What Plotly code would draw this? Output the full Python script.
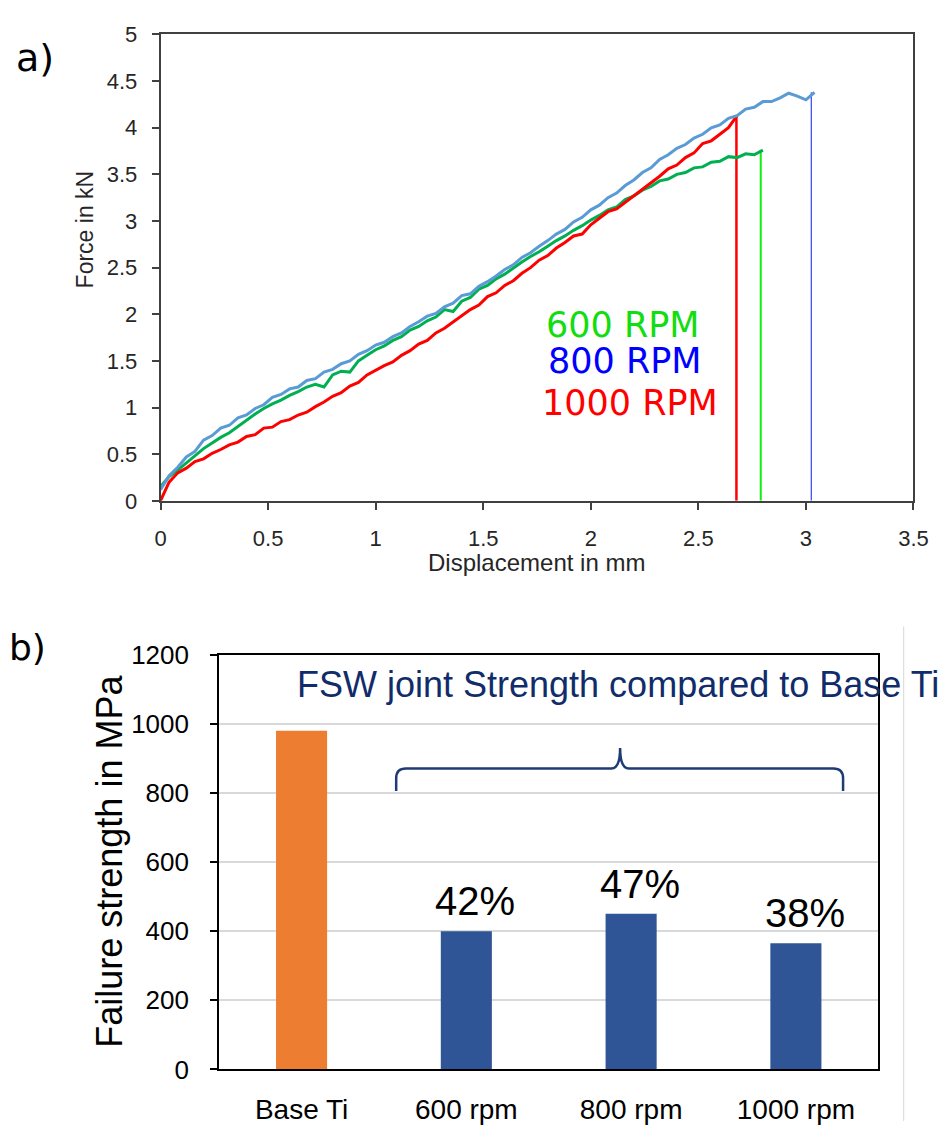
import plotly.graph_objects as go

# ---------------- data ----------------
displacement = [0.00, 0.04, 0.08, 0.12, 0.16, 0.20, 0.24, 0.28, 0.32, 0.36,
                0.40, 0.44, 0.48, 0.52, 0.56, 0.60, 0.64, 0.68, 0.72, 0.76,
                0.80, 0.84, 0.88, 0.92, 0.96, 1.00, 1.04, 1.08, 1.12, 1.16,
                1.20, 1.24, 1.28, 1.32, 1.36, 1.40, 1.44, 1.48, 1.52, 1.56,
                1.60, 1.64, 1.68, 1.72, 1.76, 1.80, 1.84, 1.88, 1.92, 1.96,
                2.00, 2.04, 2.08, 2.12, 2.16, 2.20, 2.24, 2.28, 2.32, 2.36,
                2.40, 2.44, 2.48, 2.52, 2.56, 2.60, 2.64, 2.68, 2.72, 2.76,
                2.80, 2.84, 2.88, 2.92, 2.96, 3.00, 3.04]

force_600 = [0.15, 0.26, 0.33, 0.41, 0.49, 0.56, 0.62, 0.68, 0.73, 0.80,
             0.86, 0.93, 0.99, 1.04, 1.08, 1.13, 1.17, 1.22, 1.25, 1.22,
             1.35, 1.39, 1.38, 1.50, 1.56, 1.62, 1.66, 1.72, 1.76, 1.83,
             1.87, 1.93, 1.97, 2.05, 2.03, 2.14, 2.18, 2.27, 2.31, 2.38,
             2.43, 2.50, 2.56, 2.62, 2.67, 2.73, 2.79, 2.84, 2.90, 2.95,
             3.01, 3.06, 3.12, 3.15, 3.23, 3.27, 3.33, 3.37, 3.43, 3.45,
             3.50, 3.52, 3.57, 3.58, 3.63, 3.64, 3.69, 3.68, 3.72, 3.71,
             3.76]

force_800 = [0.12, 0.27, 0.36, 0.47, 0.53, 0.65, 0.70, 0.78, 0.81, 0.89,
             0.92, 0.99, 1.03, 1.11, 1.14, 1.20, 1.22, 1.29, 1.31, 1.38,
             1.41, 1.47, 1.50, 1.57, 1.61, 1.67, 1.70, 1.76, 1.80, 1.87,
             1.92, 1.98, 2.01, 2.08, 2.12, 2.20, 2.22, 2.30, 2.35, 2.41,
             2.48, 2.53, 2.61, 2.66, 2.73, 2.79, 2.86, 2.91, 2.99, 3.04,
             3.12, 3.17, 3.25, 3.30, 3.38, 3.44, 3.52, 3.57, 3.66, 3.71,
             3.78, 3.82, 3.89, 3.93, 4.00, 4.03, 4.10, 4.13, 4.20, 4.22,
             4.28, 4.28, 4.32, 4.37, 4.34, 4.30, 4.38]

force_1000 = [0.00, 0.20, 0.30, 0.35, 0.42, 0.45, 0.51, 0.55, 0.60, 0.63,
              0.69, 0.71, 0.78, 0.79, 0.85, 0.87, 0.92, 0.95, 1.01, 1.06,
              1.12, 1.16, 1.23, 1.27, 1.35, 1.40, 1.45, 1.49, 1.56, 1.61,
              1.68, 1.72, 1.80, 1.85, 1.92, 1.98, 2.05, 2.10, 2.19, 2.23,
              2.31, 2.36, 2.44, 2.50, 2.58, 2.63, 2.71, 2.77, 2.84, 2.86,
              2.96, 3.03, 3.10, 3.13, 3.20, 3.26, 3.33, 3.40, 3.48, 3.56,
              3.60, 3.68, 3.73, 3.83, 3.86, 3.93, 4.00, 4.13]

rpm_labels = ["600 RPM", "800 RPM", "1000 RPM"]
break_disp = [2.79, 3.025, 2.677]          # displacement at fracture

categories = ["Base Ti", "600 rpm", "800 rpm", "1000 rpm"]
strength = [980, 400, 450, 365]
pct_labels = ["42%", "47%", "38%"]

# ---------------- helpers ----------------
W, H = 950, 1136
def px(x):
    return x / W
def py(y):
    return 1 - y / H

ARIAL = "Liberation Sans, Arial, sans-serif"
VERD = "DejaVu Sans, Verdana, sans-serif"

curve_colors = ["#00b050", "#5b9bd5", "#ff0000"]
drop_colors = ["#11ee11", "#3344ff", "#ff0000"]
drop_widths = [2, 1.2, 2.5]
label_colors = ["#11dd11", "#0000ff", "#ff0000"]
curves = [force_600, force_800, force_1000]

fig = go.Figure()

for i, f in enumerate(curves):
    fig.add_trace(go.Scatter(x=[break_disp[i], break_disp[i]], y=[0, f[-1]],
                             mode="lines", line=dict(color=drop_colors[i], width=drop_widths[i]),
                             xaxis="x", yaxis="y", hoverinfo="skip"))
for i in [0, 2, 1]:
    f = curves[i]
    fig.add_trace(go.Scatter(x=displacement[:len(f)], y=f, mode="lines",
                             line=dict(color=curve_colors[i], width=3),
                             name=rpm_labels[i], xaxis="x", yaxis="y"))

bar_colors = ["#ed7d31", "#2f5597", "#2f5597", "#2f5597"]
fig.add_trace(go.Bar(x=categories, y=strength, marker=dict(color=bar_colors, line=dict(width=0)),
                     width=0.31, xaxis="x2", yaxis="y2"))

axis_common = dict(showline=True, mirror=True, zeroline=False, ticks="outside")

fig.update_layout(
    width=W, height=H, autosize=False, margin=dict(l=0, r=0, t=0, b=0, pad=0),
    paper_bgcolor="white", plot_bgcolor="white", showlegend=False,
    xaxis=dict(domain=[px(158), px(928)], range=[0, 3.5], dtick=0.5, anchor="y",
               linecolor="#404040", linewidth=1.5, tickcolor="#404040", ticklen=7, tickwidth=1.5,
               showgrid=False, tickfont=dict(family=ARIAL, size=22, color="#262626"),
               ticklabelstandoff=10, **axis_common),
    yaxis=dict(domain=[py(499), py(20)], range=[0, 5], dtick=0.5, anchor="x",
               linecolor="#404040", linewidth=1.5, tickcolor="#404040", ticklen=7, tickwidth=1.5,
               showgrid=False, tickfont=dict(family=ARIAL, size=22, color="#262626"),
               ticklabelstandoff=10, **axis_common),
    xaxis2=dict(domain=[px(218), px(892)], type="category", range=[-0.5, 3.5], anchor="y2",
                showline=True, mirror=True, linecolor="black", linewidth=2, ticks="",
                showgrid=False, tickfont=dict(family=ARIAL, size=28, color="black"),
                ticklabelstandoff=14),
    yaxis2=dict(domain=[py(1083), py(657)], range=[0, 1200], dtick=200, anchor="x2",
                linecolor="black", linewidth=2, tickcolor="black", ticklen=7, tickwidth=2,
                showgrid=True, gridcolor="#d9d9d9", gridwidth=1.5,
                tickfont=dict(family=ARIAL, size=26, color="black"),
                ticklabelstandoff=16, **axis_common),
)

def note(text, x, y, size, color="black", family=ARIAL, xref="paper", yref="paper",
         xanchor="center", yanchor="middle", angle=0):
    return dict(text=text, x=x, y=y, xref=xref, yref=yref, xanchor=xanchor, yanchor=yanchor,
                textangle=angle, showarrow=False, font=dict(family=family, size=size, color=color))

ann = [
    note("a)", px(8), py(44), 38, family=VERD, xanchor="left"),
    note("b)", px(1), py(650), 36, family=VERD, xanchor="left"),
    note("Force in kN", px(81), py(220), 23, color="#262626", angle=-90),
    note("Displacement in mm", px(542), py(562), 24, color="#262626"),
    note("Failure strength in MPa", px(105), py(869), 36, angle=-90),
    note("FSW joint Strength compared to Base Ti", px(296), py(688), 36, color="#102c6a",
         xanchor="left"),
]
rpm_pos = [(2.15, 1.89), (2.16, 1.50), (2.18, 1.05)]
for i, lab in enumerate(rpm_labels):
    ann.append(note(lab, rpm_pos[i][0], rpm_pos[i][1], 35, color=label_colors[i], family=VERD,
                    xref="x", yref="y"))
for i, lab in enumerate(pct_labels):
    idx = i + 1
    ann.append(note(lab, idx + 0.055, strength[idx] + 87, 40, xref="x2", yref="y2"))
fig.update_layout(annotations=ann)

# brace
bx0, bx1, btip = 399, 856, 628
by_line, by_end, by_tip = 774, 797, 753
r = 10
path = (f"M {px(bx0)},{py(by_end)} L {px(bx0)},{py(by_line + r)} "
        f"Q {px(bx0)},{py(by_line)} {px(bx0 + r)},{py(by_line)} "
        f"L {px(btip - 9)},{py(by_line)} Q {px(btip)},{py(by_line)} {px(btip)},{py(by_tip)} "
        f"Q {px(btip)},{py(by_line)} {px(btip + 9)},{py(by_line)} "
        f"L {px(bx1 - r)},{py(by_line)} Q {px(bx1)},{py(by_line)} {px(bx1)},{py(by_line + r)} "
        f"L {px(bx1)},{py(by_end)}")
shapes = [
    dict(type="path", path=path, xref="paper", yref="paper",
         line=dict(color="#1f3b73", width=2.5)),
    dict(type="line", x0=px(918), x1=px(918), y0=py(628), y1=0, xref="paper", yref="paper",
         line=dict(color="#d6d6d6", width=1)),
]
fig.update_layout(shapes=shapes)

post = ("document.documentElement.style.margin='0';document.body.style.margin='0';"
        "document.body.style.padding='0';document.documentElement.style.overflow='hidden';"
        "document.body.style.overflow='hidden';")
fig.write_html("out.html", post_script=post, config={"displayModeBar": False})
